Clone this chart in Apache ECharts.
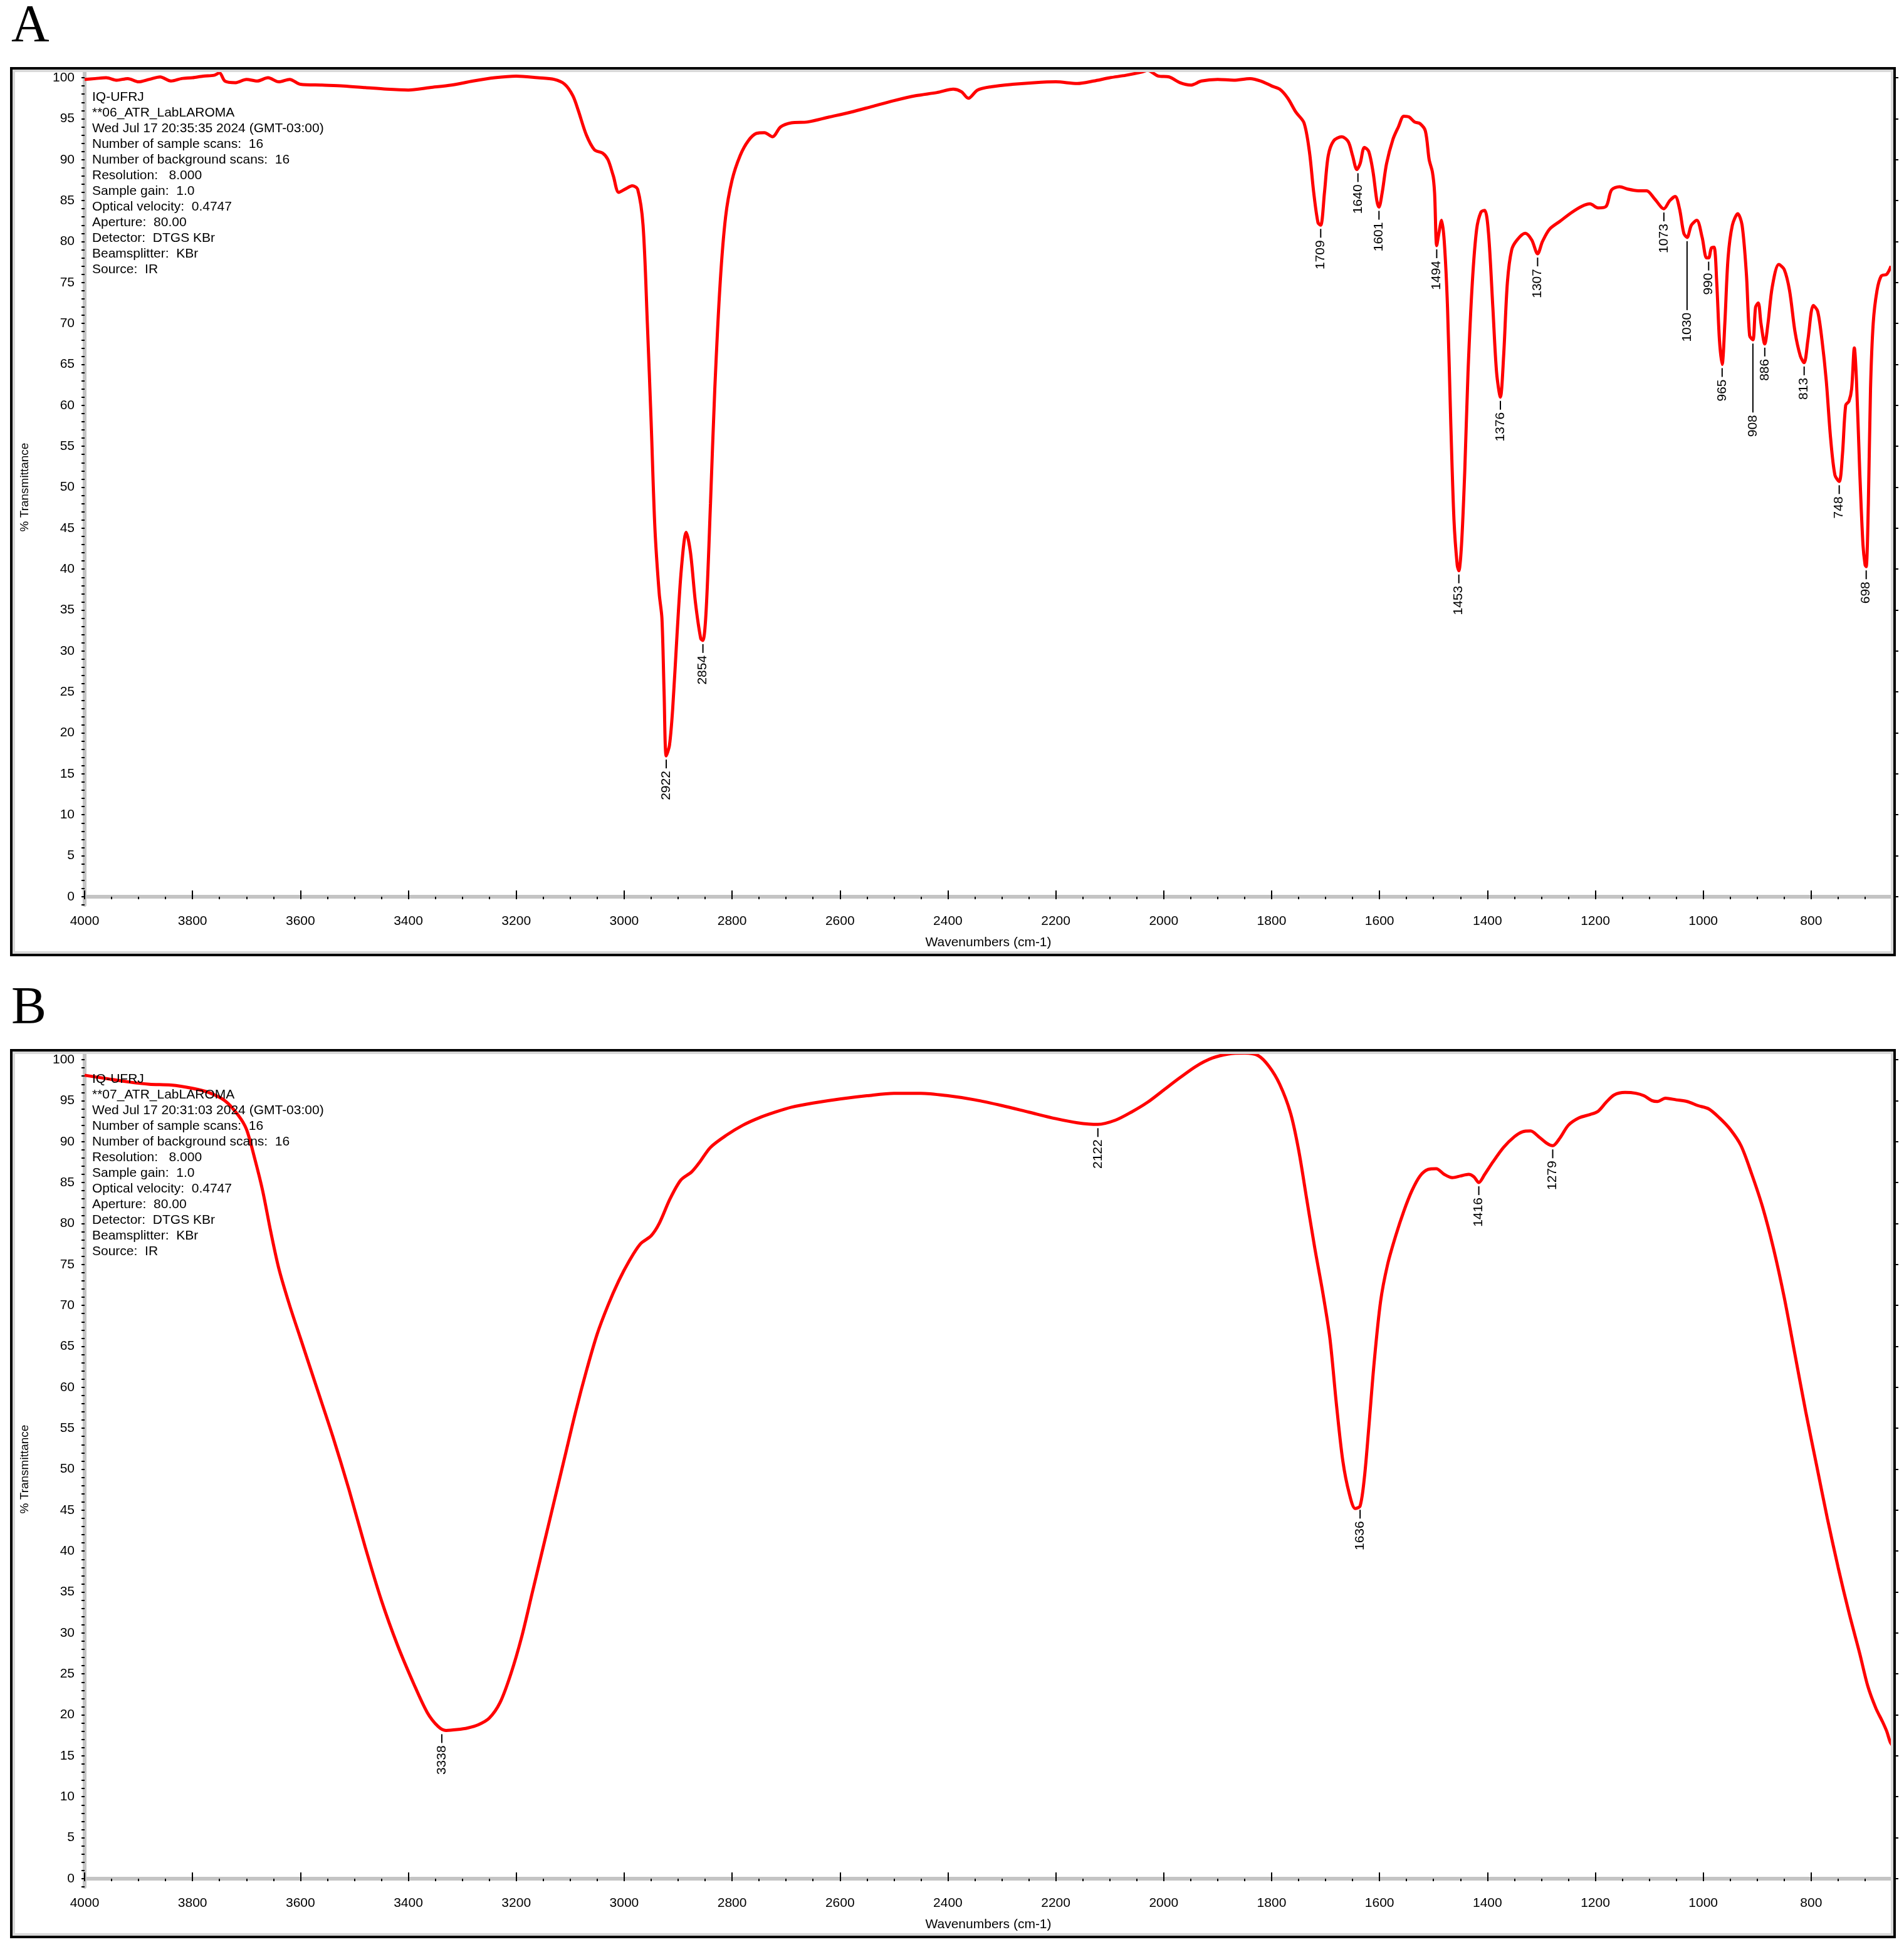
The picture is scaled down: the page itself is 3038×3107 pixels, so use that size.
<!DOCTYPE html>
<html>
<head>
<meta charset="utf-8">
<script src="https://cdn.jsdelivr.net/npm/echarts@6/dist/echarts.min.js"></script>
<style>
  html, body { margin: 0; padding: 0; background: #fff; }
  #chart { width: 3038px; height: 3107px; }
</style>
</head>
<body>
<div id="chart"></div>
<script>
// spectrum A: [wavenumber, %T]
const spectrumA = [
  [4000, 99.8], [3980, 99.9], [3960, 100], [3940, 99.7], [3920, 99.9], [3900, 99.5], [3880, 99.8],
  [3860, 100.1], [3840, 99.6], [3820, 99.9], [3800, 100], [3780, 100.2], [3760, 100.3], [3750, 100.6],
  [3740, 99.6], [3720, 99.4], [3700, 99.8], [3680, 99.6], [3660, 100], [3640, 99.5], [3620, 99.8],
  [3600, 99.2], [3560, 99.1], [3520, 99], [3480, 98.8], [3440, 98.6], [3400, 98.5], [3360, 98.8],
  [3320, 99.1], [3280, 99.6], [3240, 100], [3200, 100.2], [3160, 100], [3130, 99.8], [3110, 99.2],
  [3095, 97.8], [3085, 96], [3070, 93], [3055, 91.2], [3040, 90.8], [3030, 90], [3020, 88],
  [3010, 86], [2998, 86.4], [2985, 86.8], [2975, 86.4], [2965, 82], [2957, 70], [2950, 58],
  [2943, 45], [2935, 37], [2930, 34], [2926, 25], [2922, 17.2], [2916, 18.5], [2910, 23],
  [2902, 32], [2894, 40], [2885, 44.5], [2877, 42], [2868, 36], [2858, 31.5], [2854, 31.3],
  [2848, 35], [2840, 48], [2832, 62], [2822, 75], [2812, 83], [2800, 87.5], [2785, 90.5],
  [2770, 92.3], [2755, 93.2], [2740, 93.3], [2725, 92.8], [2710, 94], [2690, 94.5], [2660, 94.6],
  [2620, 95.2], [2580, 95.8], [2540, 96.5], [2500, 97.2], [2460, 97.8], [2420, 98.2], [2390, 98.6],
  [2375, 98.3], [2362, 97.5], [2345, 98.5], [2320, 98.9], [2280, 99.2], [2240, 99.4], [2200, 99.5],
  [2160, 99.3], [2130, 99.6], [2100, 100], [2070, 100.3], [2040, 100.7], [2030, 100.9], [2010, 100.2],
  [1990, 100.1], [1970, 99.4], [1950, 99.1], [1930, 99.6], [1900, 99.8], [1870, 99.7], [1840, 99.9],
  [1820, 99.6], [1800, 99], [1785, 98.6], [1770, 97.5], [1755, 95.8], [1740, 94.5], [1730, 91],
  [1722, 86], [1714, 82.3], [1709, 82], [1702, 86], [1695, 90.5], [1685, 92.3], [1670, 92.8],
  [1658, 92.2], [1650, 90.5], [1642, 88.8], [1636, 89.5], [1628, 91.5], [1620, 91], [1612, 88.5],
  [1605, 85], [1601, 84.2], [1595, 86], [1587, 89.5], [1575, 92.5], [1565, 94], [1555, 95.3],
  [1545, 95.2], [1535, 94.6], [1525, 94.4], [1515, 93.5], [1508, 90], [1502, 88.5], [1498, 86],
  [1494, 79.5], [1490, 81], [1485, 82.6], [1480, 80], [1474, 72], [1468, 58], [1462, 46],
  [1456, 40.5], [1453, 39.8], [1448, 43], [1442, 52], [1436, 64], [1428, 75], [1420, 81.5],
  [1412, 83.6], [1405, 83.8], [1398, 81], [1390, 72], [1383, 64], [1376, 61], [1370, 66],
  [1363, 75], [1355, 79], [1345, 80.2], [1330, 81], [1318, 80.2], [1307, 78.5], [1298, 80],
  [1285, 81.5], [1265, 82.5], [1245, 83.5], [1225, 84.3], [1210, 84.6], [1195, 84.1], [1180, 84.3],
  [1170, 86.3], [1155, 86.7], [1140, 86.4], [1120, 86.2], [1105, 86.2], [1090, 85.2], [1073, 84],
  [1062, 85], [1052, 85.5], [1044, 84], [1036, 81], [1030, 80.5], [1022, 82], [1012, 82.6],
  [1002, 80.5], [994, 78], [990, 78], [985, 79.2], [980, 79.3], [975, 75], [970, 68], [965, 65],
  [960, 70], [954, 78], [946, 82], [936, 83.4], [928, 82], [920, 76], [914, 68.5], [908, 68],
  [903, 72], [898, 72.5], [893, 70], [886, 67.5], [880, 70], [872, 74.5], [860, 77.2], [850, 76.6],
  [840, 74], [830, 69], [820, 66], [813, 65.2], [806, 68], [796, 72.2], [788, 71.5], [780, 68],
  [772, 63], [764, 56], [756, 51.5], [748, 50.7], [742, 54], [736, 60], [730, 60.5], [725, 62],
  [720, 67], [716, 63], [710, 52], [704, 43], [700, 40.5], [698, 40.3], [694, 48], [690, 62],
  [685, 70], [678, 74], [670, 75.8], [660, 76], [652, 77]
];
// spectrum B: [wavenumber, %T]
const spectrumB = [
  [4000, 98.1], [3960, 97.7], [3920, 97.3], [3880, 97], [3840, 96.9], [3800, 96.5], [3770, 96],
  [3740, 95], [3715, 93.2], [3700, 91.5], [3685, 88], [3670, 84], [3655, 79], [3640, 74.5],
  [3620, 70], [3600, 66], [3570, 60], [3540, 54], [3510, 47.5], [3480, 40.5], [3450, 34],
  [3420, 28.5], [3390, 23.8], [3365, 20.3], [3345, 18.6], [3330, 18.1], [3310, 18.2], [3290, 18.4],
  [3270, 18.8], [3250, 19.6], [3230, 21.5], [3210, 25], [3190, 29.5], [3170, 35], [3150, 40.5],
  [3130, 46], [3110, 51.5], [3090, 57], [3070, 62], [3050, 66.5], [3030, 70], [3010, 73],
  [2990, 75.5], [2970, 77.5], [2950, 78.5], [2935, 80], [2915, 83], [2895, 85.3], [2875, 86.3],
  [2860, 87.5], [2840, 89.3], [2810, 90.8], [2780, 92], [2750, 92.9], [2720, 93.6], [2690, 94.2],
  [2650, 94.7], [2600, 95.2], [2550, 95.6], [2500, 95.9], [2450, 95.9], [2400, 95.6], [2350, 95.1],
  [2300, 94.4], [2250, 93.6], [2200, 92.8], [2160, 92.3], [2122, 92.1], [2090, 92.6], [2060, 93.6],
  [2030, 94.8], [2000, 96.3], [1970, 97.8], [1940, 99.2], [1910, 100.2], [1880, 100.7],
  [1850, 100.8], [1825, 100.5], [1805, 99.2], [1785, 97], [1765, 93.5], [1750, 89], [1735, 83],
  [1720, 77], [1705, 71.5], [1692, 66], [1680, 58], [1668, 51], [1656, 47], [1645, 45.2],
  [1636, 45.5], [1628, 49], [1620, 55], [1610, 63], [1598, 70.5], [1585, 75], [1570, 78.5],
  [1555, 81.5], [1540, 84], [1525, 85.8], [1510, 86.6], [1495, 86.7], [1480, 86], [1465, 85.6],
  [1450, 85.8], [1435, 86], [1425, 85.7], [1416, 85], [1405, 86], [1390, 87.5], [1370, 89.3],
  [1350, 90.6], [1335, 91.2], [1320, 91.3], [1305, 90.6], [1290, 89.8], [1279, 89.5], [1265, 90.5],
  [1250, 92], [1230, 92.9], [1210, 93.3], [1195, 93.7], [1180, 94.8], [1165, 95.7], [1145, 96],
  [1125, 95.9], [1110, 95.6], [1095, 95], [1085, 94.9], [1070, 95.3], [1050, 95.1], [1030, 94.9],
  [1010, 94.4], [990, 94], [970, 92.9], [950, 91.5], [930, 89.5], [910, 86], [890, 82],
  [870, 77], [850, 71], [830, 64], [810, 57], [790, 50.5], [770, 44], [750, 38], [730, 32.5],
  [710, 27.5], [695, 23.5], [680, 20.8], [668, 19.2], [660, 18], [653, 16.6], [648, 16.2]
];
// peak labels: [wavenumber, %T, leader length in px]
const peaksA = [
  [2922, 17.2, 14], [2854, 31.3, 14], [1709, 82, 14], [1640, 88.8, 14], [1601, 84.2, 14],
  [1494, 79.5, 14], [1453, 39.8, 14], [1376, 61, 14], [1307, 78.5, 14], [1073, 84, 14],
  [1030, 80.5, 110], [990, 78, 14], [965, 65, 14], [908, 68, 110], [886, 67.5, 14],
  [813, 65.2, 14], [748, 50.7, 14], [698, 40.3, 14]
];
const peaksB = [
  [3338, 18.1, 14], [2122, 92.1, 14], [1636, 45.5, 14], [1416, 85, 14], [1279, 89.5, 14]
];
const infoA = [
  'IQ-UFRJ', '**06_ATR_LabLAROMA', 'Wed Jul 17 20:35:35 2024 (GMT-03:00)',
  'Number of sample scans:  16', 'Number of background scans:  16', 'Resolution:   8.000',
  'Sample gain:  1.0', 'Optical velocity:  0.4747', 'Aperture:  80.00', 'Detector:  DTGS KBr',
  'Beamsplitter:  KBr', 'Source:  IR'
];
const infoB = [
  'IQ-UFRJ', '**07_ATR_LabLAROMA', 'Wed Jul 17 20:31:03 2024 (GMT-03:00)',
  'Number of sample scans:  16', 'Number of background scans:  16', 'Resolution:   8.000',
  'Sample gain:  1.0', 'Optical velocity:  0.4747', 'Aperture:  80.00', 'Detector:  DTGS KBr',
  'Beamsplitter:  KBr', 'Source:  IR'
];
const xMajor = [800, 1000, 1200, 1400, 1600, 1800, 2000, 2200, 2400, 2600, 2800, 3000, 3200, 3400, 3600, 3800, 4000];
const yMajor = [0, 5, 10, 15, 20, 25, 30, 35, 40, 45, 50, 55, 60, 65, 70, 75, 80, 85, 90, 95, 100];

const FONT = 'Liberation Sans';
const PANEL_DY = 1567;
const GRID = { left: 135, width: 2884, top: 111, height: 1333 };

const chart = echarts.init(document.getElementById('chart'), null, { renderer: 'canvas' });

const grids = [];
const xAxes = [];
const yAxes = [];
const series = [];
const graphics = [];

function panel(i, data, peaks, info, letter) {
  const dy = i * PANEL_DY;
  grids.push({ left: GRID.left, width: GRID.width, top: GRID.top + dy, height: GRID.height, backgroundColor: '#fff', show: true, borderWidth: 0 });
  const xBase = { type: 'value', gridIndex: i, inverse: true, min: 650, max: 4000, splitLine: { show: false } };
  // minor ticks + labels
  xAxes.push(Object.assign({}, xBase, {
    interval: 50,
    axisLine: { lineStyle: { color: '#c4c4c4', width: 6 } },
    axisTick: { length: 4, lineStyle: { color: '#000', width: 2 } },
    axisLabel: {
      color: '#000', fontFamily: FONT, fontSize: 21, margin: 16,
      formatter: v => (v % 200 === 0 ? String(v) : '')
    },
    name: 'Wavenumbers (cm-1)', nameLocation: 'middle', nameGap: 50,
    nameTextStyle: { color: '#000', fontFamily: FONT, fontSize: 21 }
  }));
  // major ticks
  xAxes.push(Object.assign({}, xBase, {
    axisLine: { show: false },
    axisTick: { customValues: xMajor, length: 10, lineStyle: { color: '#000', width: 2 } },
    axisLabel: { show: false }
  }));
  const yBase = { type: 'value', gridIndex: i, min: -1, max: 101, splitLine: { show: false } };
  yAxes.push(Object.assign({}, yBase, {
    interval: 1,
    axisLine: { lineStyle: { color: '#c4c4c4', width: 6 } },
    axisTick: { length: 5, lineStyle: { color: '#000', width: 2 } },
    axisLabel: {
      color: '#000', fontFamily: FONT, fontSize: 21, margin: 16,
      formatter: v => (v >= 0 && v % 5 === 0 ? String(v) : '')
    },
    name: '% Transmittance', nameLocation: 'middle', nameGap: 86,
    nameTextStyle: { color: '#000', fontFamily: FONT, fontSize: 19 }
  }));
  yAxes.push(Object.assign({}, yBase, {
    axisLine: { show: false },
    axisTick: { customValues: yMajor, length: 10, lineStyle: { color: '#000', width: 2 } },
    axisLabel: { show: false }
  }));
  series.push({
    type: 'line', xAxisIndex: 2 * i, yAxisIndex: 2 * i, data: data,
    showSymbol: false, smooth: 0.3, lineStyle: { color: '#ff0000', width: 5 }, z: 3, silent: true
  });
  series.push({
    type: 'custom', xAxisIndex: 2 * i, yAxisIndex: 2 * i, data: peaks, z: 4, silent: true,
    renderItem: (params, api) => {
      const p = api.coord([api.value(0), api.value(1)]);
      const len = api.value(2);
      const y0 = p[1] + 6;
      return {
        type: 'group',
        children: [
          { type: 'line', shape: { x1: p[0], y1: y0, x2: p[0], y2: y0 + len }, style: { stroke: '#000', lineWidth: 2 } },
          {
            type: 'text', x: p[0], y: y0 + len + 4, rotation: Math.PI / 2,
            style: { text: String(api.value(0)), fill: '#000', font: '21px ' + FONT, align: 'right', verticalAlign: 'middle' }
          }
        ]
      };
    }
  });
  // frame
  graphics.push({ type: 'rect', shape: { x: 18, y: 109 + dy, width: 3005, height: 1415 }, style: { fill: 'none', stroke: '#000', lineWidth: 4 }, z: 10 });
  graphics.push({ type: 'rect', shape: { x: 22, y: 113 + dy, width: 2997, height: 1407 }, style: { fill: 'none', stroke: '#d8d8d8', lineWidth: 4 }, z: 9 });
  graphics.push({ type: 'text', x: 18, y: 2 + dy, style: { text: letter, fill: '#000', font: '84px "Liberation Serif"' }, z: 10 });
  graphics.push({
    type: 'text', x: 147, y: 143 + dy,
    style: { text: info.join('\n'), fill: '#000', font: '21px ' + FONT, lineHeight: 25 }, z: 5
  });
}

panel(0, spectrumA, peaksA, infoA, 'A');
panel(1, spectrumB, peaksB, infoB, 'B');

chart.setOption({
  backgroundColor: '#fff',
  animation: false,
  grid: grids,
  xAxis: xAxes,
  yAxis: yAxes,
  series: series,
  graphic: graphics
});
</script>
</body>
</html>
